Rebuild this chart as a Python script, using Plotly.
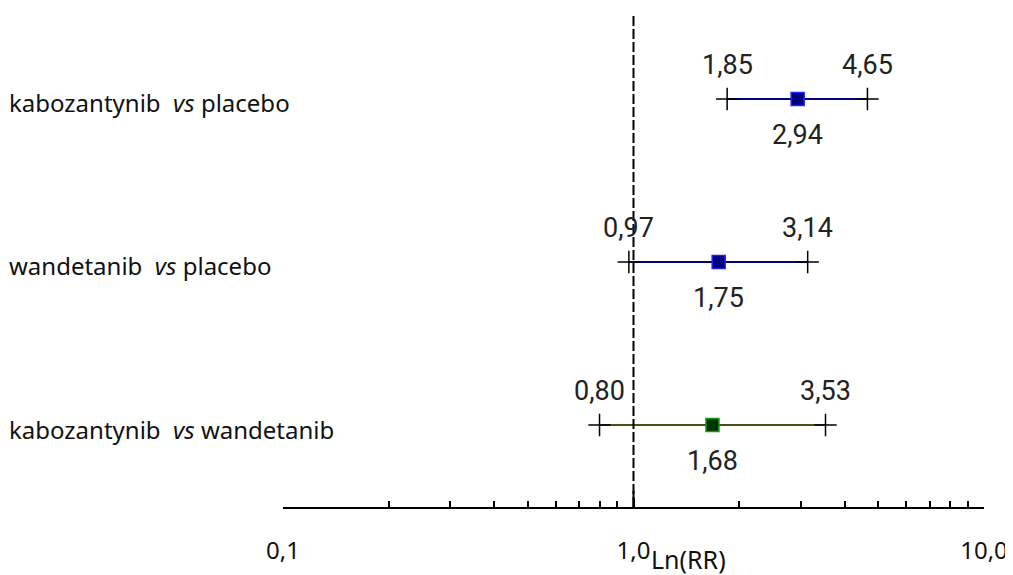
import math
import plotly.graph_objects as go

comparisons = ["kabozantynib&nbsp; <i>vs</i> placebo",
               "wandetanib&nbsp; <i>vs</i> placebo",
               "kabozantynib&nbsp; <i>vs</i> wandetanib"]
rr = [2.94, 1.75, 1.68]
ci_low = [1.85, 0.97, 0.80]
ci_high = [4.65, 3.14, 3.53]
rows = [2, 1, 0]
line_colors = ["#000080", "#000080", "#4f4f12"]
fill_colors = ["#00007a", "#00007a", "#003300"]
edge_colors = ["#1f1fff", "#1f1fff", "#169a16"]

tick_vals = [0.1, 1, 10]
tick_text = ["0,1", "1,0", "10,0"]
minor_vals = [0.2, 0.3, 0.4, 0.5, 0.6, 0.7, 0.8, 0.9, 2, 3, 4, 5, 6, 7, 8, 9]

def fmt(v):
    return f"{v:.2f}".replace(".", ",")

fig = go.Figure()
num_font = dict(family="Roboto, Noto Sans, sans-serif", size=27, color="#222222")
lab_font = dict(family="Noto Sans, sans-serif", size=24, color="#111111")

for i in range(len(rr)):
    y = rows[i]
    fig.add_trace(go.Scatter(x=[ci_low[i], ci_high[i]], y=[y, y], mode="lines",
                             line=dict(color=line_colors[i], width=2),
                             showlegend=False, hoverinfo="skip"))
    fig.add_trace(go.Scatter(x=[ci_low[i], ci_high[i]], y=[y, y], mode="markers",
                             marker=dict(symbol="cross-thin", size=16,
                                         line=dict(color="black", width=1.5)),
                             showlegend=False, hoverinfo="skip"))
    fig.add_trace(go.Scatter(x=[rr[i]], y=[y], mode="markers",
                             marker=dict(symbol="square", size=13, color=fill_colors[i],
                                         line=dict(color=edge_colors[i], width=1.5)),
                             showlegend=False))
    fig.add_annotation(x=math.log10(ci_low[i]), y=y, text=fmt(ci_low[i]), showarrow=False,
                       yshift=34, font=num_font)
    fig.add_annotation(x=math.log10(ci_high[i]), y=y, text=fmt(ci_high[i]), showarrow=False,
                       yshift=34, font=num_font)
    fig.add_annotation(x=math.log10(rr[i]), y=y, text=fmt(rr[i]), showarrow=False,
                       yshift=-36, font=num_font)
    fig.add_annotation(x=-0.3937, xref="paper", y=y, text=comparisons[i],
                       showarrow=False, xanchor="left", yshift=-4, font=lab_font)

# reference line at RR = 1
fig.add_shape(type="line", x0=1, x1=1, xref="x", y0=0, y1=0.986, yref="paper",
              line=dict(color="black", width=2, dash="10px,3px"))
fig.add_shape(type="line", x0=1, x1=1, xref="x", y0=0, y1=16 / 499, yref="paper",
              line=dict(color="black", width=2))

fig.add_annotation(x=0.578, xref="paper", y=-0.105, yref="paper", text="Ln(RR)",
                   showarrow=False, yanchor="middle",
                   font=dict(family="Noto Sans, sans-serif", size=25, color="#111111"))

fig.update_xaxes(type="log", range=[-1, 1], showgrid=False, zeroline=False,
                 showline=True, linecolor="black", linewidth=2,
                 tickvals=tick_vals, ticktext=tick_text, ticks="inside",
                 ticklen=8, tickwidth=2, tickcolor="black",
                 ticklabelstandoff=21,
                 tickfont=dict(family="Noto Sans, sans-serif", size=24, color="#111111"),
                 minor=dict(tickvals=minor_vals, ticks="inside", ticklen=6,
                            tickwidth=1.5, tickcolor="black", showgrid=False))
fig.update_yaxes(range=[-0.503, 2.558], visible=False)

fig.update_layout(width=1005, height=567, margin=dict(l=275, r=29, t=0, b=68),
                  plot_bgcolor="white", paper_bgcolor="white", showlegend=False)

fig.write_html("out.html")
